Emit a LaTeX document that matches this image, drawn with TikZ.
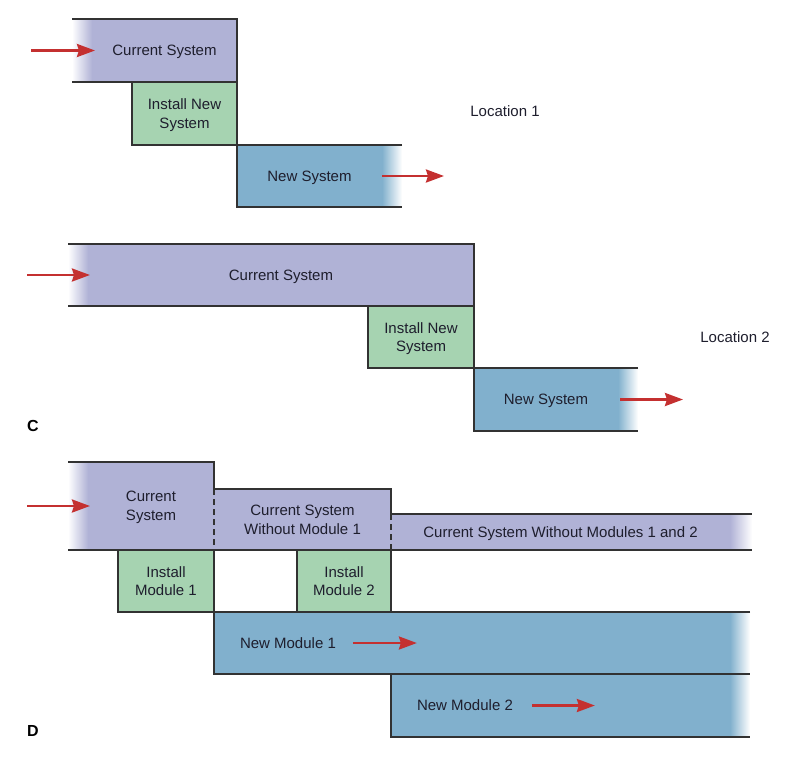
\documentclass[tikz,border=0pt]{standalone}
\usepackage{fontspec}
\setmainfont{Liberation Sans}
\definecolor{cursys}{RGB}{176, 178, 214}
\definecolor{instgreen}{RGB}{166, 211, 177}
\definecolor{newblue}{RGB}{129, 176, 205}
\definecolor{flowred}{RGB}{196, 48, 48}
\definecolor{rimgray}{RGB}{50, 50, 50}
\definecolor{textdark}{RGB}{30, 30, 45}
\usepackage{tikz}
\usetikzlibrary{arrows.meta, positioning}

\tikzset{
  phase/.style={inner sep=0pt, outer sep=0pt, align=center, text=textdark, text depth=0pt, font=\fontsize{15}{18.5}\selectfont},
  curbox/.style={phase, fill=cursys},
  instbox/.style={phase, fill=instgreen, draw=rimgray, line width=1.2pt},
  newbox/.style={phase, fill=newblue},
  rim/.style={draw=rimgray, line width=1.2pt},
  cut/.style={rim, dash pattern=on 6pt off 4pt, line width=1.6pt},
  flow/.style={flowred, line width=2.6pt, -{Stealth[length=18pt, width=13pt, inset=2pt]}},
  tag/.style={text=black, font=\fontsize{16}{16}\selectfont\bfseries}
}

\begin{document}
\begin{tikzpicture}[x=1pt, y=-1pt]
  \useasboundingbox (0,0) rectangle (794,756);

  % Location 1
  \node[curbox, minimum width=145, minimum height=63] (cur1) at (164.5, 50.5) {Current System};
  \node[newbox, minimum width=145, minimum height=62] (new1) at (309.5, 176) {New System};
  \shade[left color=white, right color=cursys] ([xshift=-20pt]cur1.north west) rectangle (cur1.south west);
  \shade[left color=newblue, right color=white] (new1.north east) rectangle ([xshift=20pt]new1.south east);
  \node[instbox, minimum width=105, minimum height=63] (ins1) at (184.5, 113.5) {Install New\\System};
  \draw[rim] ([xshift=-20pt]cur1.north west) -- (cur1.north east) -- (cur1.south east) -- ([xshift=-20pt]cur1.south west);
  \draw[rim] ([xshift=20pt]new1.north east) -- (new1.north west) -- (new1.south west) -- ([xshift=20pt]new1.south east);
  \draw[flow] ([xshift=-61pt]cur1.west) -- ([xshift=3pt]cur1.west);
  \draw[flow] (new1.east) -- ([xshift=62pt]new1.east);
  \node[phase] (loc1) at (505, 111) {Location 1};

  % Location 2
  \node[curbox, minimum width=386, minimum height=62] (cur2) at (281, 275) {Current System};
  \node[newbox, minimum width=144, minimum height=63] (new2) at (546, 399.5) {New System};
  \shade[left color=white, right color=cursys] ([xshift=-20pt]cur2.north west) rectangle (cur2.south west);
  \shade[left color=newblue, right color=white] (new2.north east) rectangle ([xshift=20pt]new2.south east);
  \node[instbox, minimum width=106, minimum height=62] (ins2) at (421, 337) {Install New\\System};
  \draw[rim] ([xshift=-20pt]cur2.north west) -- (cur2.north east) -- (cur2.south east) -- ([xshift=-20pt]cur2.south west);
  \draw[rim] ([xshift=20pt]new2.north east) -- (new2.north west) -- (new2.south west) -- ([xshift=20pt]new2.south east);
  \draw[flow] ([xshift=-61pt]cur2.west) -- ([xshift=2pt]cur2.west);
  \draw[flow] ([xshift=2pt]new2.east) -- ([xshift=65pt]new2.east);
  \node[phase] (loc2) at (735, 337) {Location 2};
  \node[tag] (tagC) at (33, 426) {C};

  % Module by module
  \node[curbox, minimum width=126, minimum height=88] (curD) at (151, 506) {Current\\System};
  \node[curbox, minimum width=177, minimum height=61] (woutA) at (302.5, 519.5) {Current System\\Without Module 1};
  \node[curbox, minimum width=339, minimum height=36] (woutB) at (560.5, 532) {Current System Without Modules 1 and 2};
  \node[newbox, minimum width=516, minimum height=62] (newM1) at (472, 643) {};
  \node[newbox, minimum width=339, minimum height=63] (newM2) at (560.5, 705.5) {};
  \shade[left color=white, right color=cursys] ([xshift=-20pt]curD.north west) rectangle (curD.south west);
  \shade[left color=cursys, right color=white] (woutB.north east) rectangle ([xshift=22pt]woutB.south east);
  \shade[left color=newblue, right color=white] (newM1.north east) rectangle ([xshift=20pt]newM1.south east);
  \shade[left color=newblue, right color=white] (newM2.north east) rectangle ([xshift=20pt]newM2.south east);
  \node[instbox, minimum width=96, minimum height=62] (insM1) at (166, 581) {Install\\Module 1};
  \node[instbox, minimum width=94, minimum height=62] (insM2) at (344, 581) {Install\\Module 2};
  \node[phase, right=26pt of newM1.west] (newM1txt) {New Module 1};
  \node[phase, right=26pt of newM2.west] (newM2txt) {New Module 2};

  \draw[rim] ([xshift=-20pt]curD.north west) -- (curD.north east) -- (woutA.north west) -- (woutA.north east) -- (woutB.north west) -- ([xshift=22pt]woutB.north east);
  \draw[rim] ([xshift=-20pt]curD.south west) -- ([xshift=22pt]woutB.south east);
  \draw[cut] (woutA.north west) -- (woutA.south west);
  \draw[cut] (woutB.north west) -- (woutB.south west);
  \draw[rim] ([xshift=20pt]newM1.north east) -- (newM1.north west) -- (newM1.south west) -- ([xshift=20pt]newM1.south east);
  \draw[rim] (newM2.north west) -- (newM2.south west) -- ([xshift=20pt]newM2.south east);

  \draw[flow] ([xshift=-61pt]curD.west) -- ([xshift=2pt]curD.west);
  \draw[flow] ([xshift=17pt]newM1txt.east) -- ([xshift=81pt]newM1txt.east);
  \draw[flow] ([xshift=19pt]newM2txt.east) -- ([xshift=82pt]newM2txt.east);
  \node[tag] (tagD) at (33, 731) {D};
\end{tikzpicture}
\end{document}
